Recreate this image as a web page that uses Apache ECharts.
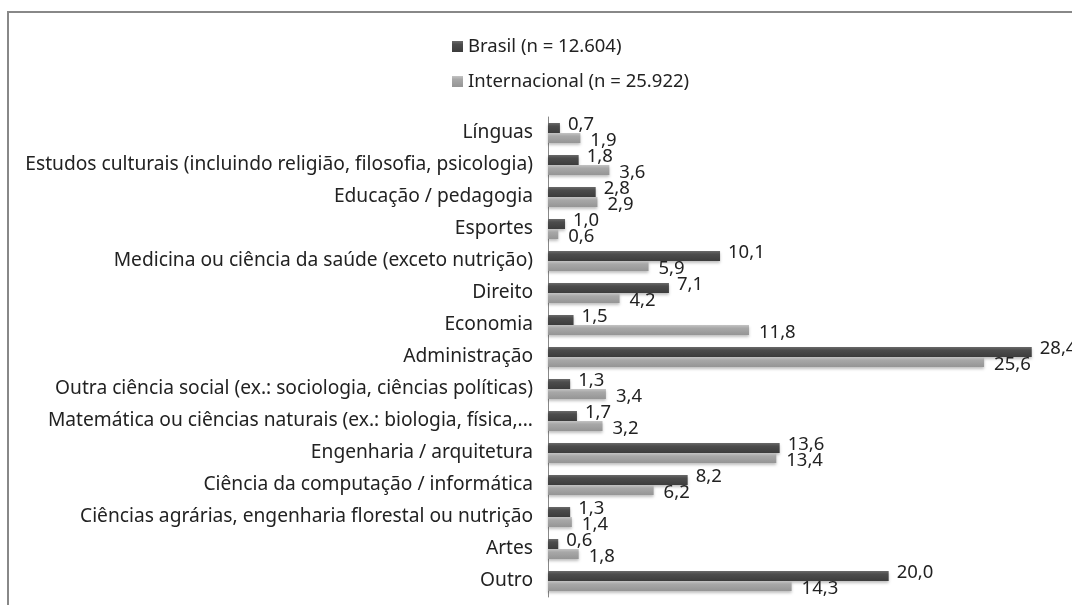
<!DOCTYPE html>
<html>
<head>
<meta charset="utf-8">
<style>
  html, body { margin: 0; padding: 0; background: #fff; }
  #chart { width: 1072px; height: 605px; }
</style>
<script src="https://cdn.jsdelivr.net/npm/echarts@6/dist/echarts.min.js"></script>
</head>
<body>
<div id="chart"></div>
<script>
// categorias, de cima para baixo
var categorias = [
  'Línguas',
  'Estudos culturais (incluindo religião, filosofia, psicologia)',
  'Educação / pedagogia',
  'Esportes',
  'Medicina ou ciência da saúde (exceto nutrição)',
  'Direito',
  'Economia',
  'Administração',
  'Outra ciência social (ex.: sociologia, ciências políticas)',
  'Matemática ou ciências naturais (ex.: biologia, física,...',
  'Engenharia / arquitetura',
  'Ciência da computação / informática',
  'Ciências agrárias, engenharia florestal ou nutrição',
  'Artes',
  'Outro'
]
var brasil = [0.7, 1.8, 2.8, 1.0, 10.1, 7.1, 1.5, 28.4, 1.3, 1.7, 13.6, 8.2, 1.3, 0.6, 20.0]
var internacional = [1.9, 3.6, 2.9, 0.6, 5.9, 4.2, 11.8, 25.6, 3.4, 3.2, 13.4, 6.2, 1.4, 1.8, 14.3]
var nomes = ['Brasil (n = 12.604)', 'Internacional (n = 25.922)']

var fonte = '"Noto Sans", sans-serif'
var tam = 18.5

function rotulo (v) {
  return v.value.toFixed(1).replace('.', ',')
}

var chart = echarts.init(document.getElementById('chart'))
chart.setOption({
  animation: false,
  textStyle: { fontFamily: fonte },
  graphic: [{
    type: 'rect',
    shape: { x: 8, y: 12, width: 1100, height: 640 },
    style: { fill: 'none', stroke: '#888', lineWidth: 2 },
    silent: true
  }],
  legend: {
    orient: 'vertical',
    left: 447,
    top: 32,
    itemWidth: 11,
    itemHeight: 11,
    itemGap: 16,
    icon: 'rect',
    textStyle: { fontSize: tam, color: '#222', fontFamily: fonte },
    data: nomes
  },
  grid: {
    left: 548,
    right: 13,
    top: 117,
    bottom: 8
  },
  xAxis: {
    type: 'value',
    min: 0,
    max: 30,
    show: false
  },
  yAxis: {
    type: 'category',
    inverse: true,
    data: categorias,
    axisLine: { lineStyle: { color: '#888', width: 1 } },
    axisTick: { show: false },
    axisLabel: {
      margin: 15,
      fontSize: 19.2,
      color: '#222',
      fontFamily: fonte
    }
  },
  series: [
    {
      name: nomes[0],
      type: 'bar',
      data: brasil,
      barWidth: 10,
      barGap: '0%',
      itemStyle: {
        color: new echarts.graphic.LinearGradient(0, 0, 0, 1, [
          { offset: 0, color: '#6a6a6a' },
          { offset: 0.3, color: '#4d4d4d' },
          { offset: 1, color: '#3c3c3c' }
        ]),
        shadowColor: 'rgba(0,0,0,0.25)',
        shadowBlur: 3,
        shadowOffsetY: 2
      },
      label: {
        show: true,
        position: 'right',
        distance: 8,
        offset: [0, -3],
        fontSize: tam,
        color: '#222',
        fontFamily: fonte,
        formatter: rotulo
      }
    },
    {
      name: nomes[1],
      type: 'bar',
      data: internacional,
      barWidth: 10,
      itemStyle: {
        color: new echarts.graphic.LinearGradient(0, 0, 0, 1, [
          { offset: 0, color: '#c4c4c4' },
          { offset: 0.3, color: '#a8a8a8' },
          { offset: 1, color: '#959595' }
        ]),
        shadowColor: 'rgba(0,0,0,0.25)',
        shadowBlur: 3,
        shadowOffsetY: 2
      },
      label: {
        show: true,
        position: 'right',
        distance: 10,
        offset: [0, 3],
        fontSize: tam,
        color: '#222',
        fontFamily: fonte,
        formatter: rotulo
      }
    }
  ]
})
</script>
</body>
</html>
